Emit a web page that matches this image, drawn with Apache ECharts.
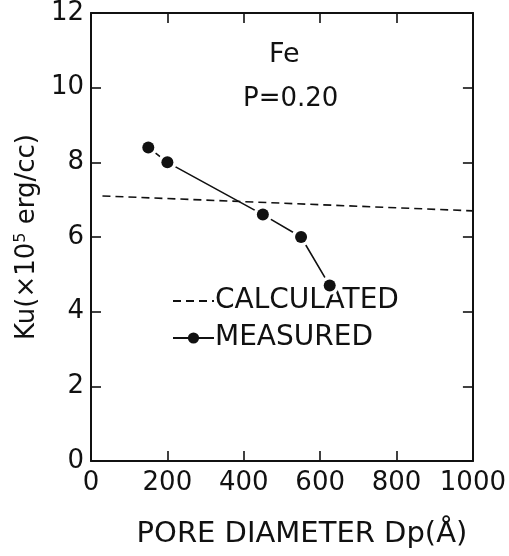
<!DOCTYPE html>
<html>
<head>
<meta charset="utf-8">
<script src="https://cdn.jsdelivr.net/npm/echarts@6/dist/echarts.min.js"></script>
<style>
  html, body { margin: 0; padding: 0; background: #fff; }
  #chart { width: 509px; height: 556px; }
</style>
</head>
<body>
<div id="chart"></div>
<script>
// Pore diameter (Å) and anisotropy constant Ku (×10^5 erg/cc), Fe, P = 0.20
const measuredDp = [150, 200, 450, 550, 625];
const measuredKu = [8.4, 8.0, 6.6, 6.0, 4.7];
const calculatedDp = [30, 1000];
const calculatedKu = [7.1, 6.7];

const xTicks = { min: 0, max: 1000, interval: 200 };
const yTicks = { min: 0, max: 12, interval: 2 };

const FONT = '"DejaVu Sans", sans-serif';
const INK = '#111';

const pairs = (xs, ys) => xs.map((x, i) => [x, ys[i]]);
const plain = (v) => String(v);

const chart = echarts.init(document.getElementById('chart'), null, { renderer: 'canvas' });

const axisLine = { show: true, onZero: false, lineStyle: { color: INK, width: 2 } };
const axisTick = { show: true, inside: true, length: 10, lineStyle: { color: INK, width: 1.6 } };

chart.setOption({
  backgroundColor: '#fff',
  animation: false,
  grid: { left: 91, right: 35, top: 13, bottom: 95, containLabel: false },
  xAxis: [
    {
      type: 'value', position: 'bottom',
      min: xTicks.min, max: xTicks.max, interval: xTicks.interval,
      axisLine, axisTick, splitLine: { show: false },
      axisLabel: { color: INK, fontFamily: FONT, fontSize: 26, margin: 9, formatter: plain },
      name: 'PORE DIAMETER Dp(Å)',
      nameLocation: 'middle', nameGap: 59,
      nameTextStyle: { color: INK, fontFamily: FONT, fontSize: 29, padding: [0, 0, 0, 40] }
    },
    {
      type: 'value', position: 'top',
      min: xTicks.min, max: xTicks.max, interval: xTicks.interval,
      axisLine, axisTick, axisLabel: { show: false }, splitLine: { show: false }
    }
  ],
  yAxis: [
    {
      type: 'value', position: 'left',
      min: yTicks.min, max: yTicks.max, interval: yTicks.interval,
      axisLine, axisTick, splitLine: { show: false },
      axisLabel: { color: INK, fontFamily: FONT, fontSize: 26, margin: 7, formatter: plain },
      name: 'Ku(×10{sup|5} erg/cc)',
      nameLocation: 'middle', nameRotate: 90, nameGap: 47,
      nameTextStyle: {
        color: INK, fontFamily: FONT, fontSize: 26,
        rich: { sup: { fontFamily: FONT, fontSize: 16, color: INK, padding: [0, 0, 12, 0] } }
      }
    },
    {
      type: 'value', position: 'right',
      min: yTicks.min, max: yTicks.max, interval: yTicks.interval,
      axisLine, axisTick, axisLabel: { show: false }, splitLine: { show: false }
    }
  ],
  legend: {
    orient: 'vertical', left: 167, top: 282,
    itemWidth: 41, itemHeight: 14, itemGap: 9,
    textStyle: { color: INK, fontFamily: FONT, fontSize: 28, padding: [0, 0, 0, -4] },
    data: [
      { name: 'CALCULATED', itemStyle: { opacity: 0 } },
      { name: 'MEASURED' }
    ]
  },
  graphic: [
    { type: 'text', left: 269, top: 41, style: { text: 'Fe', font: '27px ' + FONT, fill: INK } },
    { type: 'text', left: 243, top: 86, style: { text: 'P=0.20', font: '26px ' + FONT, fill: INK } }
  ],
  series: [
    {
      name: 'CALCULATED', type: 'line', symbol: 'none',
      data: pairs(calculatedDp, calculatedKu),
      lineStyle: { color: INK, width: 1.6, type: [8, 5] },
      itemStyle: { color: INK },
      z: 2
    },
    {
      name: 'MEASURED', type: 'line', symbol: 'circle', symbolSize: 11,
      data: pairs(measuredDp, measuredKu),
      lineStyle: { color: INK, width: 1.6 },
      itemStyle: { color: INK, opacity: 1 },
      z: 3
    },
    {
      // white halo that opens a small gap in the line around each point
      name: 'halo', type: 'scatter', symbol: 'circle', symbolSize: 19,
      data: pairs(measuredDp, measuredKu),
      itemStyle: { color: '#fff', opacity: 1 }, silent: true, z: 4
    },
    {
      name: 'dots', type: 'scatter', symbol: 'circle', symbolSize: 12,
      data: pairs(measuredDp, measuredKu),
      itemStyle: { color: INK, opacity: 1 }, silent: true, z: 5
    }
  ]
});
</script>
</body>
</html>
